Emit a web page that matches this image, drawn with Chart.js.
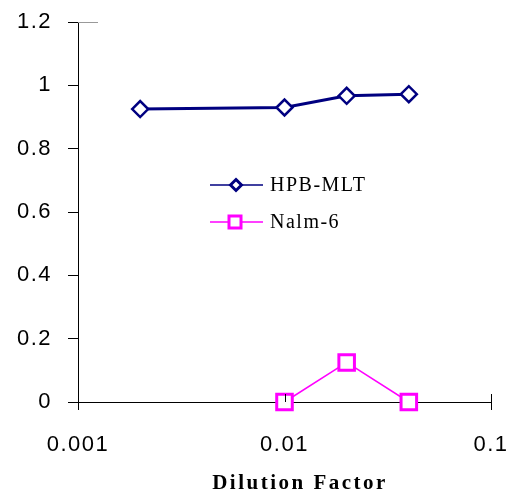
<!DOCTYPE html>
<html>
<head>
<meta charset="utf-8">
<script src="https://cdn.jsdelivr.net/npm/chart.js@4"></script>
<style>
  html, body { margin:0; padding:0; background:#fff; }
  #wrap { width:517px; height:493px; }
</style>
</head>
<body>
<div id="wrap"><canvas id="c" width="517" height="493"></canvas></div>
<script>
// values
const dilution = [0.002, 0.01, 0.02, 0.04];
const hpbMlt = [0.925, 0.93, 0.967, 0.972];
const nalmX = [0.01, 0.02, 0.04];
const nalm6 = [0, 0.125, 0];
const xTicks = [0.001, 0.01, 0.1];
const xTitle = 'Dilution Factor';

const NAVY = '#000080';
const MAGENTA = '#FF00FF';

function pts(xs, ys){
  return xs.map((x,i)=>({x:x, y:ys[i]}));
}

// the original text is a bit spread out
const spacing = {
  id:'spacing',
  beforeDraw(chart){ chart.ctx.letterSpacing = '1.5px'; }
};

// inner half of the x tick marks (they cross the axis in the original)
const crossTicks = {
  id:'crossTicks',
  afterDraw(chart){
    const ctx = chart.ctx, sx = chart.scales.x, y0 = chart.chartArea.bottom;
    ctx.save();
    ctx.strokeStyle = '#000'; ctx.lineWidth = 1;
    xTicks.forEach(v=>{
      const px = Math.round(sx.getPixelForValue(v)) + 0.5;
      ctx.beginPath(); ctx.moveTo(px, y0 - 8); ctx.lineTo(px, y0); ctx.stroke();
    });
    // faint stub at top of y axis
    ctx.strokeStyle = '#999';
    ctx.beginPath(); ctx.moveTo(chart.chartArea.left, chart.chartArea.top + 0.5); ctx.lineTo(chart.chartArea.left + 20, chart.chartArea.top + 0.5); ctx.stroke();
    ctx.restore();
  }
};

// legend box inside the plot, like the original
const innerLegend = {
  id:'innerLegend',
  afterDraw(chart){
    const ctx = chart.ctx;
    ctx.save();
    const rows = [
      {label:'HPB-MLT', color:NAVY, y:185, shape:'diamond'},
      {label:'Nalm-6', color:MAGENTA, y:222, shape:'square'}
    ];
    rows.forEach(r=>{
      ctx.strokeStyle = r.color; ctx.lineWidth = 1.5;
      ctx.beginPath(); ctx.moveTo(210, r.y); ctx.lineTo(263, r.y); ctx.stroke();
      ctx.fillStyle = '#fff'; ctx.lineWidth = 3;
      ctx.beginPath();
      if (r.shape==='diamond'){
        ctx.moveTo(236, r.y-5.5); ctx.lineTo(241.5, r.y); ctx.lineTo(236, r.y+5.5); ctx.lineTo(230.5, r.y); ctx.closePath();
      } else {
        ctx.rect(229, r.y-6, 12, 12);
      }
      ctx.fill(); ctx.stroke();
      ctx.fillStyle = '#000';
      ctx.font = '20px "Liberation Serif"';
      ctx.letterSpacing = '1.5px';
      ctx.textBaseline = 'middle'; ctx.textAlign = 'left';
      ctx.fillText(r.label, 270, r.y + 1);
    });
    ctx.font = 'bold 21px "Liberation Serif"';
    ctx.letterSpacing = '2.5px';
    ctx.textAlign = 'center'; ctx.textBaseline = 'middle';
    ctx.fillText(xTitle, 300, 484);
    ctx.restore();
  }
};

new Chart(document.getElementById('c'), {
  type:'scatter',
  data:{
    datasets:[
      {
        label:'HPB-MLT',
        data: pts(dilution, hpbMlt),
        showLine:true,
        borderColor:NAVY, borderWidth:3,
        pointStyle:'rectRot', pointRadius:8,
        pointBackgroundColor:'#fff', pointBorderColor:NAVY, pointBorderWidth:2.5
      },
      {
        label:'Nalm-6',
        data: pts(nalmX, nalm6),
        showLine:true,
        borderColor:MAGENTA, borderWidth:1.5,
        pointStyle:'rect', pointRadius:11,
        pointBackgroundColor:'#fff', pointBorderColor:MAGENTA, pointBorderWidth:3
      }
    ]
  },
  options:{
    responsive:false,
    animation:false,
    clip:false,
    layout:{ padding:{top:22, right:26, left:0, bottom:0} },
    plugins:{ legend:{display:false}, tooltip:{enabled:false} },
    scales:{
      x:{
        type:'logarithmic', min:0.001, max:0.1,
        afterBuildTicks(s){ s.ticks = xTicks.map(v=>({value:v})); },
        afterFit(s){ s.height = 91; s.paddingLeft = 0; s.paddingRight = 0; },
        grid:{ drawOnChartArea:false, drawTicks:true, tickLength:8, color:'#000' },
        border:{ display:true, color:'#000', width:1 },
        ticks:{ color:'#000', padding:22, font:{family:'"Liberation Sans", Arial', size:22},
          callback:(v)=>String(v) }
      },
      y:{
        min:0, max:1.2,
        afterFit(s){ s.width = 78; s.paddingTop = 0; s.paddingBottom = 0; },
        grid:{ drawOnChartArea:false, drawTicks:true, tickLength:10, color:'#000' },
        border:{ display:true, color:'#000', width:1 },
        ticks:{ stepSize:0.2, color:'#000', padding:16, font:{family:'"Liberation Sans", Arial', size:22},
          callback:(v)=>String(Math.round(v*10)/10) }
      }
    }
  },
  plugins:[spacing, crossTicks, innerLegend]
});
</script>
</body>
</html>
